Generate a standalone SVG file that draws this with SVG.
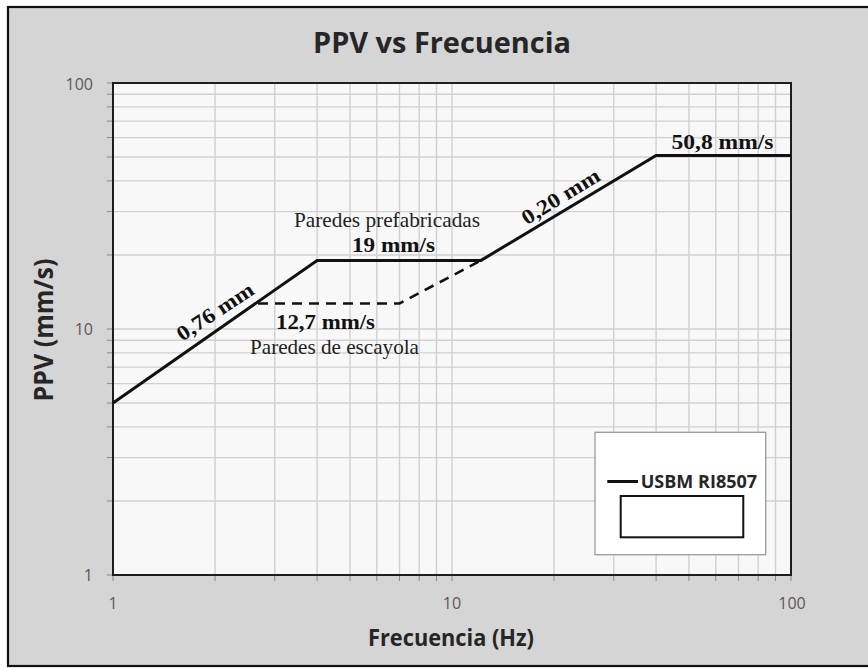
<svg xmlns="http://www.w3.org/2000/svg" width="868" height="668" viewBox="0 0 868 668">
<style>
.grid line{stroke:#d0d0d0;stroke-width:1.4}
.tick line{stroke:#8a8a8a;stroke-width:1}
.tl{font-family:"Open Sans","Liberation Sans",sans-serif;font-size:16px;fill:#595959}
.ax{font-family:"Open Sans","Liberation Sans",sans-serif;font-weight:700;fill:#262626}
.ser{font-family:"Liberation Serif","Times New Roman",serif;fill:#222}
.serb{font-family:"Liberation Serif","Times New Roman",serif;font-weight:700;fill:#111}
</style>
<rect x="0" y="0" width="868" height="668" fill="#ffffff"/>
<rect id="frame" x="8" y="7" width="872" height="659" fill="#d5d5d5" stroke="#111" stroke-width="2.2"/>
<text id="title" class="ax" x="442" y="53" font-size="28" text-anchor="middle" textLength="258" lengthAdjust="spacingAndGlyphs">PPV vs Frecuencia</text>
<g id="plot">
<rect x="113" y="83" width="678" height="492" fill="#f8f8f8"/>
<g class="grid">
<line x1="215.05" y1="83" x2="215.05" y2="575"/><line x1="274.74" y1="83" x2="274.74" y2="575"/><line x1="317.1" y1="83" x2="317.1" y2="575"/><line x1="349.95" y1="83" x2="349.95" y2="575"/><line x1="376.79" y1="83" x2="376.79" y2="575"/><line x1="399.49" y1="83" x2="399.49" y2="575"/><line x1="419.15" y1="83" x2="419.15" y2="575"/><line x1="436.49" y1="83" x2="436.49" y2="575"/><line x1="452" y1="83" x2="452" y2="575"/>
<line x1="554.05" y1="83" x2="554.05" y2="575"/><line x1="613.74" y1="83" x2="613.74" y2="575"/><line x1="656.1" y1="83" x2="656.1" y2="575"/><line x1="688.95" y1="83" x2="688.95" y2="575"/><line x1="715.79" y1="83" x2="715.79" y2="575"/><line x1="738.49" y1="83" x2="738.49" y2="575"/><line x1="758.15" y1="83" x2="758.15" y2="575"/><line x1="775.49" y1="83" x2="775.49" y2="575"/>
<line x1="113" y1="500.95" x2="791" y2="500.95"/><line x1="113" y1="457.63" x2="791" y2="457.63"/><line x1="113" y1="426.89" x2="791" y2="426.89"/><line x1="113" y1="403.05" x2="791" y2="403.05"/><line x1="113" y1="383.58" x2="791" y2="383.58"/><line x1="113" y1="367.11" x2="791" y2="367.11"/><line x1="113" y1="352.84" x2="791" y2="352.84"/><line x1="113" y1="340.26" x2="791" y2="340.26"/><line x1="113" y1="329" x2="791" y2="329"/>
<line x1="113" y1="254.95" x2="791" y2="254.95"/><line x1="113" y1="211.63" x2="791" y2="211.63"/><line x1="113" y1="180.89" x2="791" y2="180.89"/><line x1="113" y1="157.05" x2="791" y2="157.05"/><line x1="113" y1="137.58" x2="791" y2="137.58"/><line x1="113" y1="121.11" x2="791" y2="121.11"/><line x1="113" y1="106.84" x2="791" y2="106.84"/><line x1="113" y1="94.26" x2="791" y2="94.26"/>
</g>
<g class="tick">
<line x1="107" y1="83" x2="113" y2="83"/><line x1="107" y1="94.26" x2="113" y2="94.26"/><line x1="107" y1="106.84" x2="113" y2="106.84"/><line x1="107" y1="121.11" x2="113" y2="121.11"/><line x1="107" y1="137.58" x2="113" y2="137.58"/><line x1="107" y1="157.05" x2="113" y2="157.05"/><line x1="107" y1="180.89" x2="113" y2="180.89"/><line x1="107" y1="211.63" x2="113" y2="211.63"/><line x1="107" y1="254.95" x2="113" y2="254.95"/><line x1="107" y1="329" x2="113" y2="329"/>
<line x1="107" y1="340.26" x2="113" y2="340.26"/><line x1="107" y1="352.84" x2="113" y2="352.84"/><line x1="107" y1="367.11" x2="113" y2="367.11"/><line x1="107" y1="383.58" x2="113" y2="383.58"/><line x1="107" y1="403.05" x2="113" y2="403.05"/><line x1="107" y1="426.89" x2="113" y2="426.89"/><line x1="107" y1="457.63" x2="113" y2="457.63"/><line x1="107" y1="500.95" x2="113" y2="500.95"/><line x1="107" y1="575" x2="113" y2="575"/>
<line x1="113" y1="575" x2="113" y2="581"/><line x1="215.05" y1="575" x2="215.05" y2="581"/><line x1="274.74" y1="575" x2="274.74" y2="581"/><line x1="317.1" y1="575" x2="317.1" y2="581"/><line x1="349.95" y1="575" x2="349.95" y2="581"/><line x1="376.79" y1="575" x2="376.79" y2="581"/><line x1="399.49" y1="575" x2="399.49" y2="581"/><line x1="419.15" y1="575" x2="419.15" y2="581"/><line x1="436.49" y1="575" x2="436.49" y2="581"/><line x1="452" y1="575" x2="452" y2="581"/>
<line x1="554.05" y1="575" x2="554.05" y2="581"/><line x1="613.74" y1="575" x2="613.74" y2="581"/><line x1="656.1" y1="575" x2="656.1" y2="581"/><line x1="688.95" y1="575" x2="688.95" y2="581"/><line x1="715.79" y1="575" x2="715.79" y2="581"/><line x1="738.49" y1="575" x2="738.49" y2="581"/><line x1="758.15" y1="575" x2="758.15" y2="581"/><line x1="775.49" y1="575" x2="775.49" y2="581"/><line x1="791" y1="575" x2="791" y2="581"/>
</g>
<rect x="113" y="83" width="678" height="492" fill="none" stroke="#1e1e1e" stroke-width="2"/>
</g>
<g id="tick-labels" class="tl">
<text x="93" y="90" text-anchor="end">100</text>
<text x="93" y="335" text-anchor="end">10</text>
<text x="93" y="581" text-anchor="end">1</text>
<text x="113" y="609" text-anchor="middle">1</text>
<text x="452" y="609" text-anchor="middle">10</text>
<text x="792" y="609" text-anchor="middle">100</text>
</g>
<text id="y-title" class="ax" font-size="27" text-anchor="middle" transform="translate(53,330) rotate(-90)" textLength="143" lengthAdjust="spacingAndGlyphs">PPV (mm/s)</text>
<text id="x-title" class="ax" x="451" y="645.5" font-size="23" text-anchor="middle" textLength="166" lengthAdjust="spacingAndGlyphs">Frecuencia (Hz)</text>
<g id="connectors">
<polyline id="usbm" points="113,403.05 317.1,260.4 481,260.4 656.1,155.4 791,155.4" fill="none" stroke="#111" stroke-width="3"/>
<polyline id="escayola" points="258,303.5 399.5,303.5 481,260.4" fill="none" stroke="#111" stroke-width="2.6" stroke-dasharray="10 7"/>
</g>
<g id="annotations">
<text class="ser" x="387" y="226.5" font-size="21" text-anchor="middle" textLength="186" lengthAdjust="spacingAndGlyphs">Paredes prefabricadas</text>
<text class="serb" x="393.5" y="251.5" font-size="21" text-anchor="middle" textLength="83" lengthAdjust="spacingAndGlyphs">19 mm/s</text>
<text class="serb" x="325.5" y="328.5" font-size="21" text-anchor="middle" textLength="99" lengthAdjust="spacingAndGlyphs">12,7 mm/s</text>
<text class="ser" x="334.5" y="354" font-size="21" text-anchor="middle" textLength="169" lengthAdjust="spacingAndGlyphs">Paredes de escayola</text>
<text class="serb" x="722.5" y="149.3" font-size="21" text-anchor="middle" textLength="102" lengthAdjust="spacingAndGlyphs">50,8 mm/s</text>
<text class="serb" font-size="21" text-anchor="middle" transform="translate(219,317.5) rotate(-33.5)" textLength="88" lengthAdjust="spacingAndGlyphs">0,76 mm</text>
<text class="serb" font-size="21" text-anchor="middle" transform="translate(564.2,202.5) rotate(-31.5)" textLength="88" lengthAdjust="spacingAndGlyphs">0,20 mm</text>
</g>
<g id="legend">
<rect x="595" y="432.3" width="170.7" height="122.4" fill="#ffffff" stroke="#9a9a9a" stroke-width="1.3"/>
<line x1="607.3" y1="481.5" x2="638" y2="481.5" stroke="#111" stroke-width="3"/>
<text class="ax" x="640.7" y="488" font-size="17" textLength="116.5" lengthAdjust="spacingAndGlyphs">USBM RI8507</text>
<rect x="620.7" y="496" width="122.6" height="41.3" fill="#ffffff" stroke="#111" stroke-width="2"/>
</g>
</svg>
